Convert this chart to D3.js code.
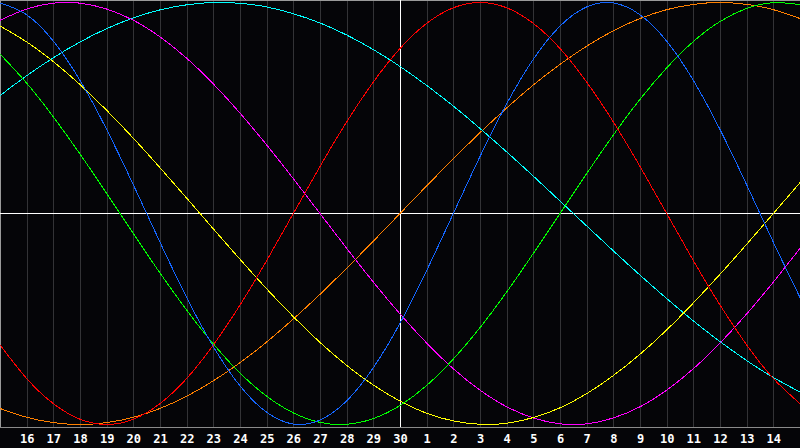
<!DOCTYPE html>
<html>
<head>
<meta charset="utf-8">
<script src="https://cdn.jsdelivr.net/npm/d3@7"></script>
<style>
html,body{margin:0;padding:0;background:#050508;}
svg{display:block;}
</style>
</head>
<body>
<svg id="chart" width="800" height="448"></svg>
<script>
// Day labels for each column index 0..30 (15th of previous month .. 15th of this month)
const days = [15,16,17,18,19,20,21,22,23,24,25,26,27,28,29,30,1,2,3,4,5,6,7,8,9,10,11,12,13,14,15];
const tickLabels = ["16","17","18","19","20","21","22","23","24","25","26","27","28","29","30","1","2","3","4","5","6","7","8","9","10","11","12","13","14"];
const todayIndex = 15;

// Cycle values per day (-1 .. 1)
const physical = [0.998,0.942,0.817,0.631,0.398,0.136,-0.136,-0.398,-0.631,-0.817,-0.942,-0.998,-0.979,-0.888,-0.731,-0.520,-0.270,0,0.270,0.520,0.731,0.888,0.979,0.998,0.942,0.817,0.631,0.398,0.136,-0.136,-0.398];
const emotional = [-0.623,-0.782,-0.901,-0.975,-1,-0.975,-0.901,-0.782,-0.623,-0.434,-0.223,0,0.223,0.434,0.623,0.782,0.901,0.975,1,0.975,0.901,0.782,0.623,0.434,0.223,0,-0.223,-0.434,-0.623,-0.782,-0.901];
const intellectual = [0.756,0.618,0.458,0.282,0.095,-0.095,-0.282,-0.458,-0.618,-0.756,-0.866,-0.945,-0.990,-0.999,-0.972,-0.910,-0.815,-0.690,-0.541,-0.372,-0.189,0,0.189,0.372,0.541,0.690,0.815,0.910,0.972,0.999,0.990];
const intuitive = [0.916,0.969,0.997,0.997,0.969,0.916,0.837,0.736,0.614,0.476,0.325,0.165,0,-0.165,-0.325,-0.476,-0.614,-0.736,-0.837,-0.916,-0.969,-0.997,-0.997,-0.969,-0.916,-0.837,-0.736,-0.614,-0.476,-0.325,-0.165];
const aesthetic = [0.889,0.813,0.720,0.611,0.489,0.357,0.217,0.073,-0.073,-0.217,-0.357,-0.489,-0.611,-0.720,-0.813,-0.889,-0.947,-0.983,-0.999,-0.994,-0.967,-0.921,-0.854,-0.768,-0.667,-0.552,-0.424,-0.288,-0.146,0,0.146];
const awareness = [-0.924,-0.966,-0.991,-1,-0.991,-0.966,-0.924,-0.866,-0.793,-0.707,-0.609,-0.5,-0.383,-0.259,-0.131,0,0.131,0.259,0.383,0.5,0.609,0.707,0.793,0.866,0.924,0.966,0.991,1,0.991,0.966,0.924];
const spiritual = [0.559,0.653,0.738,0.813,0.876,0.927,0.965,0.989,1.000,0.996,0.979,0.947,0.903,0.846,0.777,0.697,0.607,0.509,0.403,0.292,0.177,0.059,-0.059,-0.177,-0.292,-0.403,-0.509,-0.607,-0.697,-0.777,-0.846];

const seriesNames = ["awareness","spiritual","intuitive","aesthetic","intellectual","emotional","physical"];
const seriesValues = [awareness, spiritual, intuitive, aesthetic, intellectual, emotional, physical];
const seriesColors = ["#ff8000","#00ffff","#ff00ff","#ffff00","#00ff00","#ff0000","#1466ff"];

const W = 800, plotH = 427;
const svg = d3.select("#chart");
svg.append("rect").attr("width",800).attr("height",448).attr("fill","#050508");

const x = d3.scaleLinear().domain([0, days.length-1]).range([0, W]);
const y = d3.scaleLinear().domain([-1, 1]).range([424.5, 2.5]);

// vertical grid
const gridIdx = d3.range(1, days.length-1);
svg.append("g").selectAll("line").data(gridIdx).join("line")
  .attr("x1", d => Math.round(x(d)) + 0.5).attr("x2", d => Math.round(x(d)) + 0.5)
  .attr("y1", 0).attr("y2", plotH)
  .attr("stroke", "#333336").attr("stroke-width", 1)
  .attr("shape-rendering","crispEdges");

// frame
svg.append("line").attr("x1",0).attr("x2",W).attr("y1",0.5).attr("y2",0.5).attr("stroke","#9a9a9a").attr("shape-rendering","crispEdges");
svg.append("line").attr("x1",0.5).attr("x2",0.5).attr("y1",0).attr("y2",plotH).attr("stroke","#9a9a9a").attr("shape-rendering","crispEdges");
svg.append("line").attr("x1",0).attr("x2",W).attr("y1",plotH+0.5).attr("y2",plotH+0.5).attr("stroke","#8a8a8a").attr("shape-rendering","crispEdges");

// zero line and today line
svg.append("line").attr("x1",0).attr("x2",W).attr("y1",Math.floor(y(0))+0.5).attr("y2",Math.floor(y(0))+0.5)
  .attr("stroke","#ffffff").attr("shape-rendering","crispEdges");
svg.append("line").attr("x1",Math.round(x(todayIndex))+0.5).attr("x2",Math.round(x(todayIndex))+0.5).attr("y1",0).attr("y2",plotH)
  .attr("stroke","#ffffff").attr("shape-rendering","crispEdges");

// curves
const line = d3.line().x((d,i) => x(i)).y(d => y(d)).curve(d3.curveNatural);
svg.append("g").selectAll("path").data(seriesValues).join("path")
  .attr("d", d => line(d))
  .attr("fill","none")
  .attr("stroke", (d,i) => seriesColors[i])
  .attr("stroke-width", 1)
  .attr("shape-rendering","crispEdges");

// axis labels
const axis = d3.axisBottom(x)
  .tickValues(gridIdx)
  .tickFormat((d,i) => tickLabels[i])
  .tickSize(0).tickPadding(0);
const g = svg.append("g").attr("transform", `translate(0,${plotH})`).call(axis);
g.select(".domain").remove();
g.selectAll("text")
  .attr("fill","#ffffff")
  .attr("dy", "15.5px")
  .attr("font-family","'DejaVu Sans Mono', monospace")
  .attr("font-weight","bold")
  .attr("font-size","12px");
</script>
</body>
</html>
